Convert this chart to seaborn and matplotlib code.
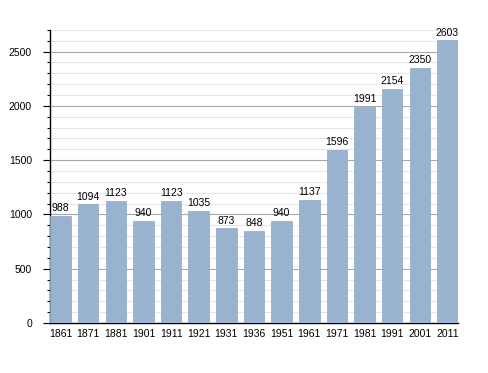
import numpy as np
import pandas as pd
import matplotlib
matplotlib.use('Agg')
import matplotlib.pyplot as plt
import seaborn as sns
from matplotlib.ticker import MultipleLocator

# dados
anos = ['1861', '1871', '1881', '1901', '1911', '1921', '1931', '1936',
        '1951', '1961', '1971', '1981', '1991', '2001', '2011']
populacao = [988, 1094, 1123, 940, 1123, 1035, 873, 848,
             940, 1137, 1596, 1991, 2154, 2350, 2603]

df = pd.DataFrame({'ano': anos, 'pop': populacao})

sns.set_style('white')
plt.rcParams['font.family'] = ['Liberation Sans', 'DejaVu Sans']
plt.rcParams['text.color'] = 'black'
plt.rcParams['xtick.color'] = 'black'
plt.rcParams['ytick.color'] = 'black'

fig = plt.figure(figsize=(4.88, 3.73), dpi=100)
ax = fig.add_axes([0.1025, 0.134, 0.836, 0.786])

sns.barplot(data=df, x='ano', y='pop', color='#98b2cf', saturation=1,
            width=0.74, edgecolor='#8ea8c6', linewidth=0.5, ax=ax, zorder=3)

ax.set_ylim(0, 2700)
ax.set_xlim(-0.38, 14.38)
ax.yaxis.set_major_locator(MultipleLocator(500))
ax.yaxis.set_minor_locator(MultipleLocator(100))
ax.grid(which='major', axis='y', color='#a8a8a8', linewidth=0.8, zorder=0)
ax.grid(which='minor', axis='y', color='#e6e6e6', linewidth=0.8, zorder=0)
ax.set_axisbelow(True)

for sp in ['top', 'right']:
    ax.spines[sp].set_visible(False)
ax.spines['left'].set_color('black')
ax.spines['bottom'].set_color('black')
ax.spines['left'].set_linewidth(1)
ax.spines['bottom'].set_linewidth(1)

ax.tick_params(axis='y', which='major', left=True, length=5, width=0.8,
               labelsize=7.5, pad=8, colors='black')
ax.tick_params(axis='y', which='minor', left=True, length=2.5, width=0.8,
               colors='black')
ax.tick_params(axis='x', bottom=False, labelsize=7.5, pad=1, colors='black')
ax.set_xlabel('')
ax.set_ylabel('')

for i, v in enumerate(populacao):
    ax.text(i, v + 25, str(v), ha='center', va='bottom', fontsize=7.5,
            color='black')

fig.savefig('out.png', dpi=100)
